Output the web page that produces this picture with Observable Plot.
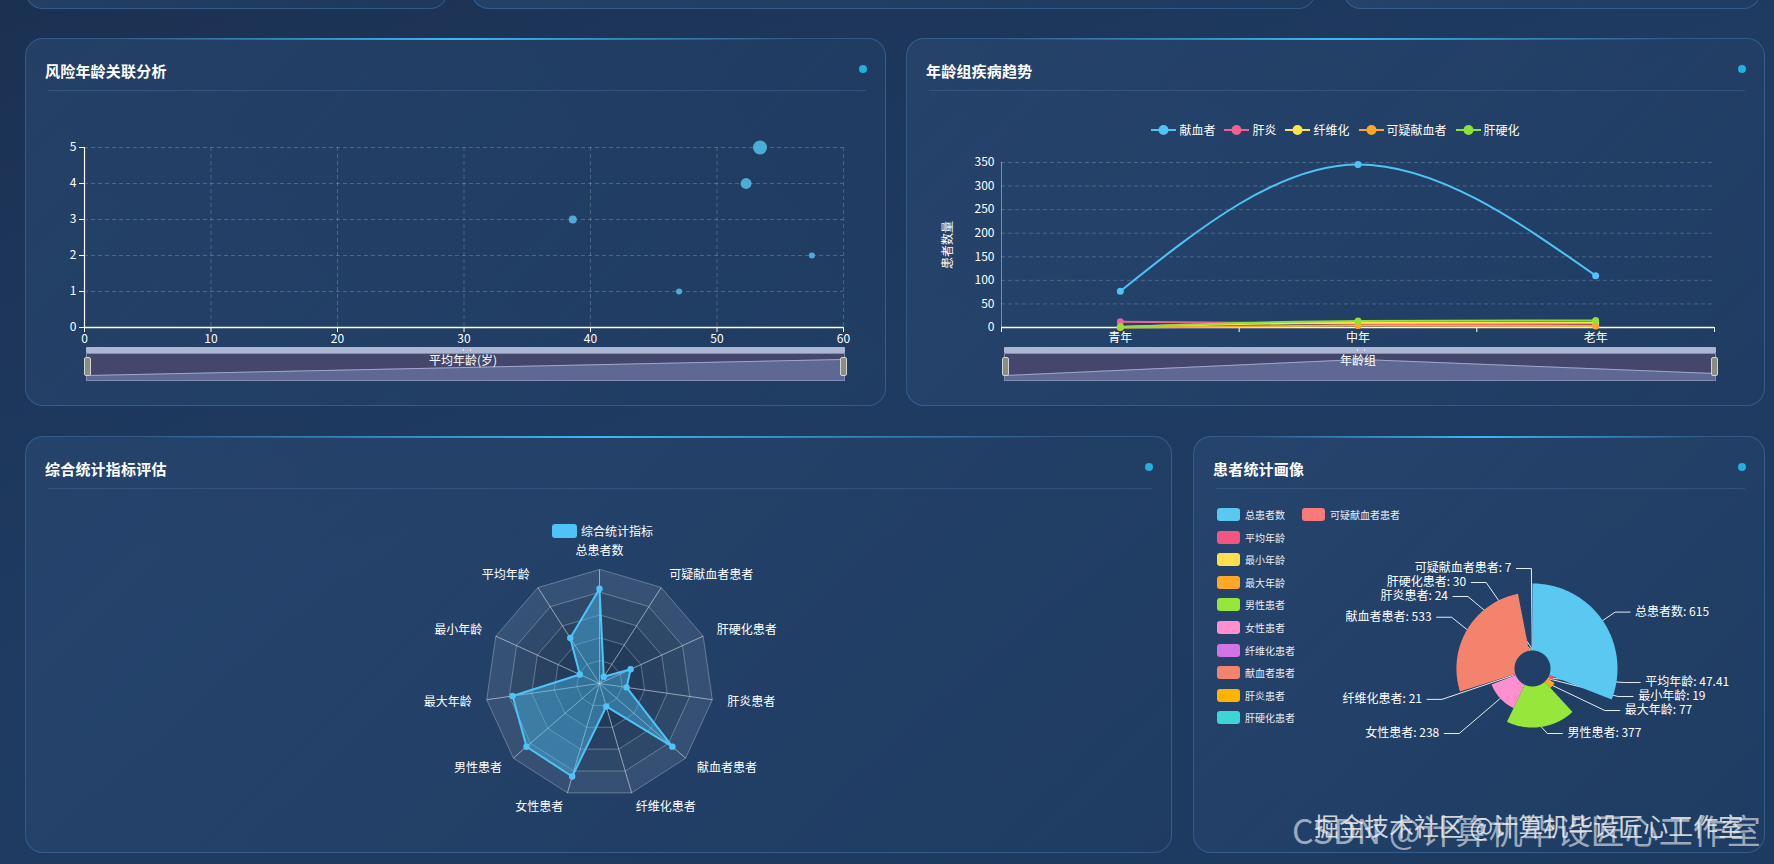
<!DOCTYPE html>
<html><head><meta charset="utf-8">
<script src="https://cdn.jsdelivr.net/npm/d3@7"></script>
<script src="https://cdn.jsdelivr.net/npm/@observablehq/plot@0.6"></script>
<style>
body{margin:0;background:#1c3557;}
#root{position:relative;width:1774px;height:864px;overflow:hidden;background:linear-gradient(160deg,#1b3152 0%,#1f3b62 45%,#1d3a60 100%);font-family:"Noto Sans CJK SC","Noto Sans",sans-serif;color:#fff}
.panel{position:absolute;border:1px solid rgba(86,146,205,0.35);border-radius:18px;background:linear-gradient(135deg,rgba(44,76,118,0.55),rgba(34,62,100,0.45));box-sizing:border-box}
.glow{position:absolute;top:-1px;left:10%;width:80%;height:2px;background:linear-gradient(90deg,rgba(53,182,238,0),#3abaf2 50%,rgba(53,182,238,0))}
.ptitle{position:absolute;left:19px;top:21px;font-size:15px;font-weight:bold;line-height:22px;color:#fff;letter-spacing:0.2px}
.psep{position:absolute;left:22px;right:19px;top:51px;height:1px;background:rgba(110,160,215,0.22)}
.pdot{position:absolute;right:18px;top:26px;width:8px;height:8px;border-radius:50%;background:#23b0dc}
</style>
</head><body><div id="root"></div>
<script>
// ---------- DATA ----------
// 风险年龄关联分析 (scatter)
const avgAge = [47.0, 57.5, 38.6, 52.3, 53.4];
const riskLevel = [1, 2, 3, 4, 5];
const patientCount = [9, 9, 16, 30, 49];
const scatterXTicks = [0, 10, 20, 30, 40, 50, 60];
const scatterYTicks = [0, 1, 2, 3, 4, 5];

// 年龄组疾病趋势 (lines)
const ageGroups = ["青年", "中年", "老年"];
const seriesNames = ["献血者", "肝炎", "纤维化", "可疑献血者", "肝硬化"];
const donors = [77, 346, 110];
const hepatitis = [12, 8, 4];
const fibrosis = [1, 10, 10];
const suspect = [0, 4, 3];
const cirrhosis = [1, 14, 15];
const lineColors = ["#4fc3f7", "#f06292", "#ffe44d", "#ffa726", "#8ee03a"];
const lineYTicks = [0, 50, 100, 150, 200, 250, 300, 350];

// 综合统计指标 (radar + rose pie)
const indicators = ["总患者数", "平均年龄", "最小年龄", "最大年龄", "男性患者", "女性患者", "纤维化患者", "献血者患者", "肝炎患者", "肝硬化患者", "可疑献血者患者"];
const statValues = [615, 47.41, 19, 77, 377, 238, 21, 533, 24, 30, 7];
const radarMax = [740, 100, 100, 100, 445, 280, 100, 630, 100, 100, 100];
const pieColors = ["#5ac8f0", "#f2557f", "#ffdf4f", "#ffa726", "#96e63c", "#ff8fcf", "#d074e6", "#f4836e", "#ffb300", "#3dd5d5", "#f87a7a"];

// ---------- HELPERS ----------
const root = document.getElementById("root");
function el(tag, css, html) { const e = document.createElement(tag); e.style.cssText = css; if (html != null) e.innerHTML = html; root.appendChild(e); return e; }
function panel(left, top, width, height, title, glow) {
  const p = el("div", `left:${left}px;top:${top}px;width:${width}px;height:${height}px`);
  p.className = "panel";
  p.innerHTML = (glow ? `<div class="glow"></div>` : "") + (title ? `<div class="ptitle">${title}</div><div class="psep"></div><div class="pdot"></div>` : "");
}
function place(node, left, top) { node.style.position = "absolute"; node.style.left = left + "px"; node.style.top = top + "px"; root.appendChild(node); }
const FONT = '"Noto Sans CJK SC","Noto Sans",sans-serif';
const baseStyle = {background: "transparent", color: "#fff", fontSize: "12px", fontFamily: FONT, overflow: "visible"};

panel(25, -30, 423, 39); panel(471, -30, 845, 39); panel(1343, -30, 418, 39);
panel(25, 38, 861, 368, "风险年龄关联分析", true);
panel(906, 38, 859, 368, "年龄组疾病趋势", true);
panel(25, 436, 1147, 417, "综合统计指标评估", true);
panel(1193, 436, 572, 417, "患者统计画像", true);

function slider(left, top, width, vals, label, labelX) {
  el("div", `position:absolute;left:${left}px;top:${top}px;width:${width}px;height:6px;background:#aab6d2;border-radius:1px`);
  el("div", `position:absolute;left:${left + width / 2 - 3}px;top:${top + 2}px;width:6px;height:2px;border-left:1px solid #fff;border-right:1px solid #fff;opacity:0.7`);
  const body = el("div", `position:absolute;left:${left}px;top:${top + 6}px;width:${width}px;height:28px;background:#44476b;border:1px solid rgba(175,190,225,0.6);box-sizing:border-box`);
  const ext = d3.extent(vals), pad = (ext[1] - ext[0]) * 0.31;
  const pts = vals.map((v, i) => ({i, v}));
  const mini = Plot.plot({
    width: width - 2, height: 26, margin: 0,
    x: {domain: [0, vals.length - 1], axis: null},
    y: {domain: [ext[0] - pad, ext[1] + pad], axis: null},
    style: {background: "transparent", overflow: "hidden"},
    marks: [
      Plot.areaY(pts, {x: "i", y1: ext[0] - pad, y2: "v", fill: "#5f6793"}),
      Plot.lineY(pts, {x: "i", y: "v", stroke: "#9ea6cc", strokeWidth: 1})
    ]
  });
  mini.style.display = "block";
  body.appendChild(mini);
  for (const hx of [left - 2, left + width - 5]) {
    el("div", `position:absolute;left:${hx}px;top:${top + 10}px;width:7px;height:19px;background:#8c8d7f;border:1px solid #cfd3da;border-radius:2px;box-sizing:border-box`);
  }
  el("div", `position:absolute;left:${labelX - 100}px;top:${top + 4}px;width:200px;text-align:center;font-size:12px;line-height:18px;color:#fff`, label);
}

// ---------- SCATTER ----------
const scatterData = avgAge.map((x, i) => ({x, y: riskLevel[i], n: patientCount[i]}));
const gridStyle = {stroke: "#fff", strokeOpacity: 0.2, strokeDasharray: "4 3"};
const sc = Plot.plot({
  width: 840, height: 250, marginLeft: 54, marginRight: 27, marginTop: 37, marginBottom: 33,
  style: baseStyle,
  x: {domain: [0, 60]}, y: {domain: [0, 5]},
  r: {type: "sqrt", domain: [0, 49], range: [0, 7]},
  marks: [
    Plot.gridX({ticks: scatterXTicks.slice(1), ...gridStyle}),
    Plot.gridY({ticks: scatterYTicks.slice(1), ...gridStyle}),
    Plot.ruleY([0], {stroke: "#fff", strokeWidth: 1.5}),
    Plot.ruleX([0], {stroke: "#fff", strokeWidth: 1.2}),
    Plot.axisX({ticks: scatterXTicks, tickSize: 5, tickPadding: 2, tickFormat: d => String(d), label: null, fontSize: 12}),
    Plot.axisY({ticks: scatterYTicks, tickSize: 5, tickPadding: 3, tickFormat: d => String(d), label: null, fontSize: 12}),
    Plot.dot(scatterData, {x: "x", y: "y", r: "n", fill: "#4fb6de", fillOpacity: 0.92})
  ]
});
place(sc, 30, 110);
slider(86, 347, 759, d3.extent(avgAge), "平均年龄(岁)", 463);

// ---------- LINES ----------
const lineSeries = [donors, hepatitis, fibrosis, suspect, cirrhosis];
const lineData = seriesNames.flatMap((s, k) => lineSeries[k].map((v, i) => ({series: s, pos: i + 0.5, v})));
const lc = Plot.plot({
  width: 830, height: 200, marginLeft: 81, marginRight: 36, marginTop: 12, marginBottom: 23,
  style: baseStyle,
  x: {domain: [0, ageGroups.length]}, y: {domain: [0, 350]},
  color: {domain: seriesNames, range: lineColors},
  marks: [
    Plot.gridY({ticks: lineYTicks.slice(1), ...gridStyle}),
    Plot.ruleX([0], {stroke: "#fff", strokeOpacity: 0.4}),
    Plot.axisY({ticks: lineYTicks, tickSize: 0, tickPadding: 7, tickFormat: d => String(d), label: null, fontSize: 12}),
    Plot.axisX({ticks: d3.range(ageGroups.length + 1), tickSize: 5, tickFormat: () => "", label: null}),
    Plot.axisX({ticks: ageGroups.map((g, i) => i + 0.5), tickSize: 0, tickPadding: 6, tickFormat: d => ageGroups[Math.floor(d)], label: null, fontSize: 12}),
    Plot.ruleY([0], {stroke: "#fff", strokeWidth: 1.5}),
    Plot.line(lineData, {x: "pos", y: "v", z: "series", stroke: "series", strokeWidth: 2, curve: "monotone-x"}),
    Plot.dot(lineData, {x: "pos", y: "v", fill: "series", r: 3.5})
  ]
});
place(lc, 920, 150);
el("div", `position:absolute;left:907px;top:236px;width:80px;text-align:center;font-size:12px;line-height:18px;transform:rotate(-90deg);color:#fff`, "患者数量");
// legend
(function () {
  const lg = el("div", `position:absolute;left:906px;width:859px;top:121px;display:flex;justify-content:center;gap:9px;font-size:12px;line-height:18px`);
  seriesNames.forEach((s, k) => {
    lg.innerHTML += `<span style="display:flex;align-items:center"><svg width="25" height="12" style="margin-right:3px"><line x1="0" x2="25" y1="6" y2="6" stroke="${lineColors[k]}" stroke-width="2"/><circle cx="12.5" cy="6" r="5" fill="${lineColors[k]}"/></svg>${s}</span>`;
  });
})();
slider(1004, 347, 712, donors, "年龄组", 1358);

// ---------- RADAR ----------
const N = indicators.length, R = 114;
const ang = i => -i * 2 * Math.PI / N;
const pt = (i, r) => ({x: r * Math.sin(ang(i)), y: r * Math.cos(ang(i))});
const levels = [5, 4, 3, 2, 1];
const ringFill = l => l === 5 ? "rgba(255,255,255,0.09)" : "rgba(12,30,58,0.16)";
const radarData = statValues.map((v, i) => ({...pt(i, R * v / radarMax[i]), name: indicators[i]}));
const labelPts = indicators.map((name, i) => ({...pt(i, R + 15), name, s: Math.sin(ang(i))}));
const rd = Plot.plot({
  width: 400, height: 340, margin: 0,
  x: {domain: [-199, 201], axis: null}, y: {domain: [-157, 183], axis: null},
  style: baseStyle,
  marks: [
    ...levels.map(l => Plot.line(d3.range(N).map(i => pt(i, R * l / 5)), {x: "x", y: "y", curve: "linear-closed", fill: ringFill(l), stroke: "#fff", strokeOpacity: 0.28, strokeWidth: 1})),
    Plot.link(d3.range(N), {x1: 0, y1: 0, x2: i => pt(i, R).x, y2: i => pt(i, R).y, stroke: "#fff", strokeOpacity: 0.5, strokeWidth: 1}),
    Plot.line(radarData, {x: "x", y: "y", curve: "linear-closed", fill: "#4fc3f7", fillOpacity: 0.42, stroke: "#4fc3f7", strokeWidth: 2}),
    Plot.dot(radarData, {x: "x", y: "y", r: 3.2, fill: "#4fc3f7"}),
    Plot.text(labelPts.filter(d => d.s > 0.05), {x: "x", y: "y", text: "name", textAnchor: "start", fill: "#fff", fontSize: 12}),
    Plot.text(labelPts.filter(d => d.s < -0.05), {x: "x", y: "y", text: "name", textAnchor: "end", fill: "#fff", fontSize: 12}),
    Plot.text(labelPts.filter(d => Math.abs(d.s) <= 0.05), {x: "x", y: "y", text: "name", textAnchor: "middle", lineAnchor: "bottom", fill: "#fff", fontSize: 12})
  ]
});
place(rd, 400, 500);
el("div", `position:absolute;left:552px;top:522px;display:flex;align-items:center;font-size:12px;line-height:18px`, `<span style="display:inline-block;width:25px;height:14px;border-radius:3px;background:#4fc3f7;margin-right:4px"></span>综合统计指标`);

// ---------- ROSE PIE ----------
const R0 = 18, RMAX = 85, LEN1 = 15, LEN2 = 15, LDIST = 5, LH = 14, BOTTOM = 72;
const pieTotal = d3.sum(statValues), pieMaxV = d3.max(statValues);
let acc = 0;
const slices = statValues.map((v, i) => {
  const span = v / pieTotal * 2 * Math.PI;
  const s = {i, name: indicators[i], v, start: acc, end: acc + span, mid: acc + span / 2, r: R0 + (RMAX - R0) * v / pieMaxV};
  acc += span; return s;
});
const labs = slices.map(s => {
  const dx = Math.sin(s.mid), dy = -Math.cos(s.mid), dir = dx < 0 ? -1 : 1;
  const p0 = [s.r * dx, s.r * dy];
  const p1 = [(RMAX + LEN1) * dx, (RMAX + LEN1) * dy];
  const p2 = [p1[0] + dir * LEN2, p1[1]];
  return {s, p0, p1, p2, x: p2[0] + dir * LDIST, y: p1[1], text: `${s.name}: ${s.v}`};
});
for (const side of [1, -1]) {
  const list = labs.filter(l => (l.x < 0 ? -1 : 1) === side).sort((a, b) => a.y - b.y);
  if (list.length < 2) continue;
  let last = -Infinity, adjusted = false;
  for (const l of list) { const top = l.y - LH / 2; if (top < last) { l.y += last - top; adjusted = true; } last = l.y + LH / 2; }
  const maxGap = BOTTOM - (list[list.length - 1].y + LH / 2);
  if (maxGap < 0) {
    const gaps = []; let tot = 0;
    for (let k = 1; k < list.length; k++) { const g = Math.max(list[k].y - list[k - 1].y - LH, 0); gaps.push(g); tot += g; }
    if (tot > 0) {
      const p = Math.min(-maxGap / tot, 0.8);
      for (let k = list.length - 1; k > 0; k--) { const m = gaps[k - 1] * p; for (let j = k; j < list.length; j++) list[j].y -= m; }
    }
    adjusted = true;
  }
  if (adjusted) {
    const rA = RMAX + LEN1;
    for (const semi of [list.filter(l => l.y <= 0), list.filter(l => l.y > 0)]) {
      let maxY = 0, rB = rA;
      for (const l of semi) {
        const dyy = Math.abs(l.y);
        if (dyy >= maxY) { const ddx = l.x - side * LEN2; rB = Math.abs(ddx) < rA ? Math.sqrt(dyy * dyy / (1 - ddx * ddx / (rA * rA))) : rA; maxY = dyy; }
      }
      for (const l of semi) { const dyy = Math.abs(l.y); const ddx = Math.sqrt(Math.max(0, 1 - dyy * dyy / (rB * rB))) * rA; l.x = side * (ddx + LEN2); }
    }
  }
  for (const l of list) { l.p2 = [l.x - side * LDIST, l.y]; l.p1 = [l.p2[0] - side * LEN2, l.y]; }
}
function sectorPts(s) {
  const n = Math.max(2, Math.ceil((s.end - s.start) / (Math.PI / 180)) + 1);
  const as = d3.range(n).map(j => s.start + (s.end - s.start) * j / (n - 1));
  return [...as.map(a => ({x: s.r * Math.sin(a), y: s.r * Math.cos(a)})), ...as.slice().reverse().map(a => ({x: R0 * Math.sin(a), y: R0 * Math.cos(a)}))];
}
const leaderData = labs.flatMap((l, k) => [l.p0, l.p1, l.p2].map(p => ({k, x: p[0], y: -p[1]})));
const pc = Plot.plot({
  width: 480, height: 240, margin: 0,
  x: {domain: [-252, 228], axis: null}, y: {domain: [-102, 138], axis: null},
  style: baseStyle,
  marks: [
    Plot.line(leaderData, {x: "x", y: "y", z: "k", stroke: "#e6ecf3", strokeWidth: 1}),
    ...slices.map(s => Plot.line(sectorPts(s), {x: "x", y: "y", curve: "linear-closed", fill: pieColors[s.i], stroke: "none"})),
    Plot.text(labs.filter(l => l.x >= 0), {x: "x", y: l => -l.y, text: "text", textAnchor: "start", fill: "#fff", fontSize: 12}),
    Plot.text(labs.filter(l => l.x < 0), {x: "x", y: l => -l.y, text: "text", textAnchor: "end", fill: "#fff", fontSize: 12})
  ]
});
place(pc, 1280, 530);
// pie legend
indicators.forEach((name, i) => {
  const col = i < 10 ? 0 : 1, row = i < 10 ? i : 0;
  const lx = col === 0 ? 1217 : 1302, ly = 508 + row * 22.6;
  el("div", `position:absolute;left:${lx}px;top:${ly}px;display:flex;align-items:center;font-size:10px;line-height:13px;color:#e8eef6`,
    `<span style="display:inline-block;width:23px;height:13px;border-radius:3px;background:${pieColors[i]};margin-right:5px"></span>${name}`);
});

// watermark
el("div", `position:absolute;left:1292px;top:808px;font-size:34px;line-height:44px;color:rgba(205,212,224,0.72);white-space:nowrap`, "CSDN @计算机毕设匠心工作室");
el("div", `position:absolute;left:1314px;top:809px;font-size:25px;line-height:32px;color:rgba(240,240,240,0.85);white-space:nowrap`, "掘金技术社区 @计算机毕设匠心工作室");
</script></body></html>
